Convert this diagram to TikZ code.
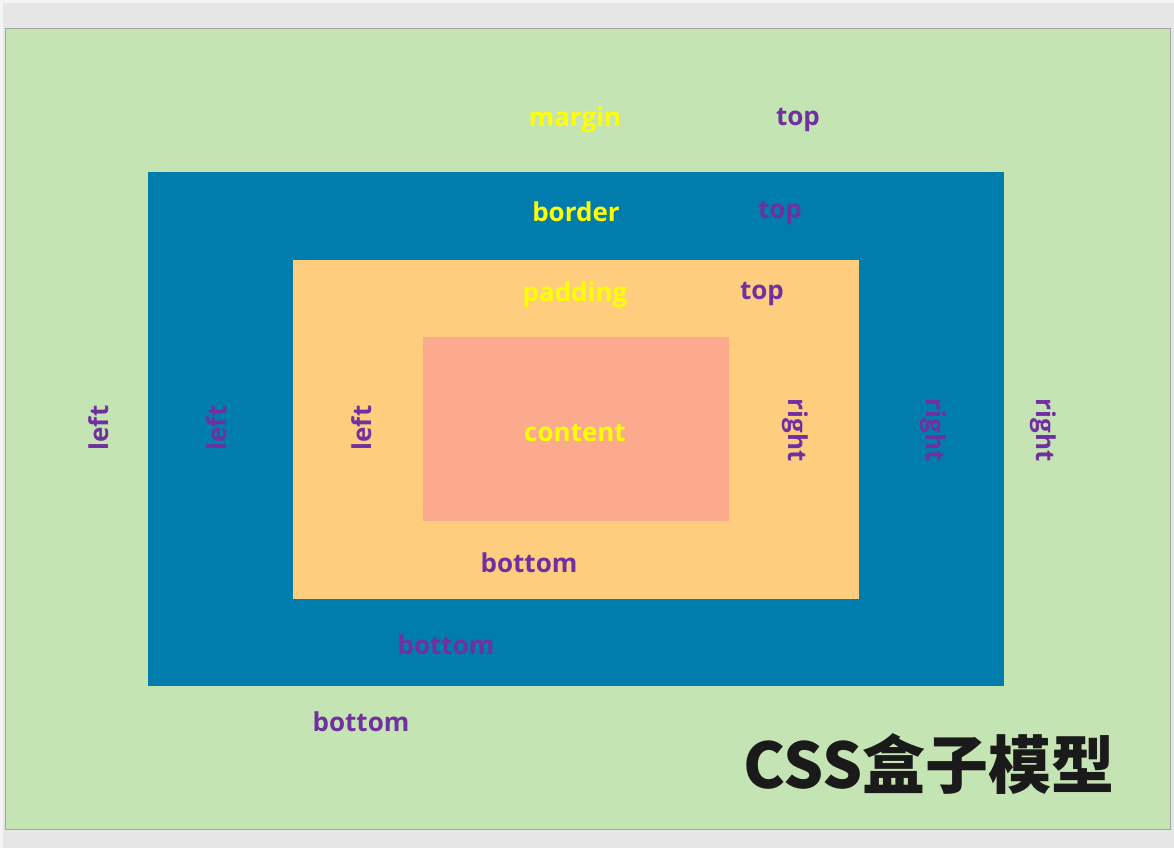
\documentclass[tikz,border=0pt]{standalone}
\usepackage{fontspec}
\setmainfont{Open Sans}
\newfontfamily\cjk{Noto Sans CJK SC}
\definecolor{bgcol}{HTML}{E6E6E6}
\definecolor{topcol}{HTML}{F5F5F5}
\definecolor{margincol}{HTML}{C5E4B3}
\definecolor{bordercol}{HTML}{007DAD}
\definecolor{paddingcol}{HTML}{FFCD7E}
\definecolor{contentcol}{HTML}{FBAA8D}
\definecolor{sidecol}{HTML}{7030A0}
\definecolor{namecol}{HTML}{FFFF00}
\definecolor{titlecol}{HTML}{1A1A1A}
\tikzset{
  box/.style={inner sep=0pt, outer sep=0pt, draw=none},
  lbl/.style={inner sep=0pt, font=\fontsize{26}{30}\selectfont\bfseries},
  side/.style={lbl, text=sidecol},
  boxname/.style={lbl, text=namecol},
}
\begin{document}
\begin{tikzpicture}[x=1pt, y=-1pt]
\useasboundingbox (0,0) rectangle (1174,848);
\fill[bgcol] (0,0) rectangle (1174,848);
\fill[topcol] (0,0) rectangle (1174,3);
\fill[topcol] (0,0) rectangle (3,848);
\node[box, fill=margincol, draw=black!35, line width=1pt, minimum width=1165pt, minimum height=800pt] (margin) at (587.5,429) {};
\node[box, fill=bordercol, minimum width=856pt, minimum height=514pt] (border) at (576,429) {};
\node[box, fill=paddingcol, minimum width=566pt, minimum height=339pt] (padding) at (576,429.5) {};
\node[box, fill=contentcol, minimum width=306pt, minimum height=184pt] (content) at (576,429) {};
% box names
\node[boxname] (mname) at (575,120) {margin};
\node[boxname] (bname) at (576,212) {border};
\node[boxname] (pname) at (575,295) {padding};
\node[boxname] (cname) at (575,433) {content};
% top
\node[side] (mtop) at (798,120) {top};
\node[side] (btop) at (780,213) {top};
\node[side] (ptop) at (762,294) {top};
% left
\node[side, rotate=90] (mleft) at (99,428) {left};
\node[side, rotate=90] (bleft) at (217,428) {left};
\node[side, rotate=90] (pleft) at (362,428) {left};
% right
\node[side, rotate=-90] (pright) at (795,430) {right};
\node[side, rotate=-90] (bright) at (933,430) {right};
\node[side, rotate=-90] (mright) at (1043,430) {right};
% bottom
\node[side] (pbottom) at (529,563) {bottom};
\node[side] (bbottom) at (446,645) {bottom};
\node[side] (mbottom) at (361,722) {bottom};
% title
\node[inner sep=0pt, text=titlecol, font=\cjk\fontsize{63}{70}\selectfont\bfseries] (title) at (929,764) {CSS盒子模型};
\end{tikzpicture}
\end{document}
